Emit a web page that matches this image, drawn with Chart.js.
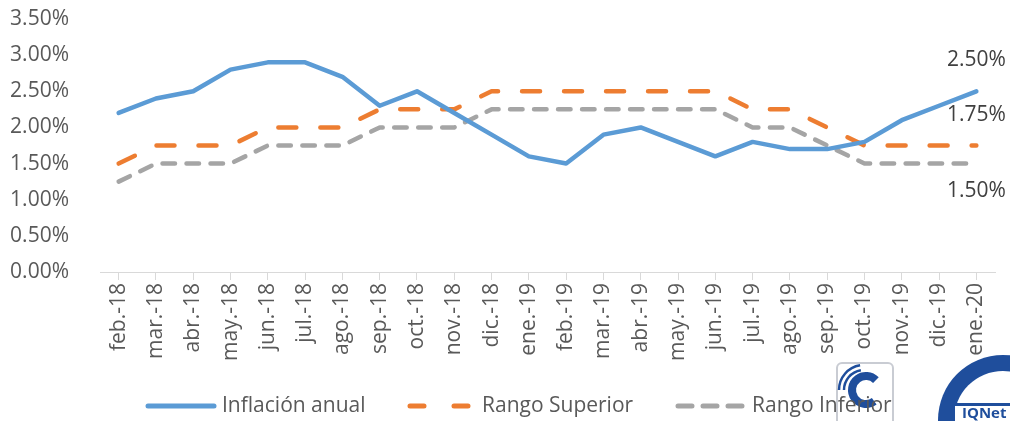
<!DOCTYPE html>
<html>
<head>
<meta charset="utf-8">
<script src="https://cdn.jsdelivr.net/npm/chart.js@4.4.1/dist/chart.umd.min.js"></script>
<style>
  html, body { margin: 0; padding: 0; background: #fff; }
  #wrap { width: 1010px; height: 421px; position: relative; }
</style>
</head>
<body>
<div id="wrap"><canvas id="chart"></canvas></div>
<script>
const months = [
  "feb.-18", "mar.-18", "abr.-18", "may.-18", "jun.-18", "jul.-18", "ago.-18", "sep.-18",
  "oct.-18", "nov.-18", "dic.-18", "ene.-19", "feb.-19", "mar.-19", "abr.-19", "may.-19",
  "jun.-19", "jul.-19", "ago.-19", "sep.-19", "oct.-19", "nov.-19", "dic.-19", "ene.-20",
];
const inflacion = [
  2.2, 2.4, 2.5, 2.8, 2.9, 2.9, 2.7, 2.3, 2.5, 2.2, 1.9, 1.6,
  1.5, 1.9, 2.0, 1.8, 1.6, 1.8, 1.7, 1.7, 1.8, 2.1, 2.3, 2.5,
];
const rangoSuperior = [
  1.5, 1.75, 1.75, 1.75, 2.0, 2.0, 2.0, 2.25, 2.25, 2.25, 2.5, 2.5,
  2.5, 2.5, 2.5, 2.5, 2.5, 2.25, 2.25, 2.0, 1.75, 1.75, 1.75, 1.75,
];
const rangoInferior = [
  1.25, 1.5, 1.5, 1.5, 1.75, 1.75, 1.75, 2.0, 2.0, 2.0, 2.25, 2.25,
  2.25, 2.25, 2.25, 2.25, 2.25, 2.0, 2.0, 1.75, 1.5, 1.5, 1.5, 1.5,
];
const seriesNames = ["Inflación anual", "Rango Superior", "Rango Inferior"];

const FONT = "'Open Sans', 'Liberation Sans', sans-serif";

// last-value labels shown at the right end of each line
const endLabelsPlugin = {
  id: "endLabels",
  afterDatasetsDraw(chart) {
    const { ctx, scales } = chart;
    const last = months.length - 1;
    const x = scales.x.getPixelForValue(last);
    const shifts = [-31, -30, 27];
    ctx.save();
    ctx.font = `21px ${FONT}`;
    ctx.fillStyle = "#404040";
    ctx.textAlign = "center";
    ctx.textBaseline = "middle";
    chart.data.datasets.forEach((ds, i) => {
      const v = ds.data[last];
      ctx.fillText(v.toFixed(2) + "%", x, scales.y.getPixelForValue(v) + shifts[i]);
    });
    ctx.restore();
  },
};

// rough stand-ins for the two certification logos in the corner
function drawLogos(ctx) {
  ctx.save();
  ctx.fillStyle = "#ffffff";
  ctx.strokeStyle = "#c9ccd3";
  ctx.lineWidth = 2;
  ctx.beginPath();
  ctx.roundRect(837, 363, 56, 64, 5);
  ctx.fill();
  ctx.stroke();
  ctx.strokeStyle = "#1f4e9c";
  ctx.lineWidth = 8;
  ctx.beginPath();
  ctx.arc(866, 390, 14, Math.PI * 0.3, Math.PI * 1.75);
  ctx.stroke();
  ctx.lineWidth = 2.5;
  [20, 25].forEach((r) => {
    ctx.beginPath();
    ctx.arc(864, 390, r, Math.PI * 1.0, Math.PI * 1.45);
    ctx.stroke();
  });

  ctx.fillStyle = "#1f4e9c";
  ctx.beginPath();
  ctx.arc(1003, 420, 65, 0, Math.PI * 2);
  ctx.fill();
  ctx.fillStyle = "#ffffff";
  ctx.beginPath();
  ctx.arc(1003, 420, 49, 0, Math.PI * 2);
  ctx.fill();
  ctx.fillStyle = "#1f4e9c";
  ctx.fillRect(951, 403, 59, 20);
  ctx.fillStyle = "#ffffff";
  ctx.fillRect(955, 406, 55, 15);
  ctx.fillStyle = "#1f4e9c";
  ctx.font = `bold 15px ${FONT}`;
  ctx.textBaseline = "middle";
  ctx.fillText("IQNet", 962, 414);
  ctx.restore();
}

const bottomLegendPlugin = {
  id: "bottomLegend",
  afterDraw(chart) {
    const { ctx } = chart;
    drawLogos(ctx);
    const y = 406;
    const items = [
      { x: 146, w: 70, text: 222 },
      { x: 408, w: 64, text: 482 },
      { x: 676, w: 68, text: 752 },
    ];
    ctx.save();
    chart.data.datasets.forEach((ds, i) => {
      const it = items[i];
      ctx.strokeStyle = ds.borderColor;
      ctx.lineWidth = 5;
      ctx.lineCap = "round";
      ctx.setLineDash(ds.legendDash || []);
      ctx.beginPath();
      ctx.moveTo(it.x + 2, y);
      ctx.lineTo(it.x + it.w - 2, y);
      ctx.stroke();
      ctx.setLineDash([]);
      ctx.font = `21px ${FONT}`;
      ctx.fillStyle = "#595959";
      ctx.textBaseline = "middle";
      ctx.fillText(ds.label, it.text, y);
    });
    ctx.restore();
  },
};

new Chart(document.getElementById("chart"), {
  type: "line",
  data: {
    labels: months,
    datasets: [
      {
        label: seriesNames[0],
        data: inflacion,
        borderColor: "#5b9bd5",
        borderWidth: 4.5,
        borderCapStyle: "round",
        borderJoinStyle: "round",
        pointRadius: 0,
        tension: 0,
        fill: false,
      },
      {
        label: seriesNames[1],
        data: rangoSuperior,
        borderColor: "#ed7d31",
        borderWidth: 4.5,
        borderDash: [18, 24],
        borderCapStyle: "round",
        borderJoinStyle: "round",
        legendDash: [14, 30],
        pointRadius: 0,
        tension: 0,
        fill: false,
      },
      {
        label: seriesNames[2],
        data: rangoInferior,
        borderColor: "#a5a5a5",
        borderWidth: 4.5,
        borderDash: [12.5, 11.5],
        borderCapStyle: "round",
        borderJoinStyle: "round",
        legendDash: [14, 11],
        pointRadius: 0,
        tension: 0,
        fill: false,
      },
    ],
  },
  options: {
    responsive: true,
    maintainAspectRatio: false,
    animation: false,
    layout: {
      padding: { top: 19, right: 15, bottom: 40, left: 0 },
    },
    plugins: {
      legend: { display: false },
      tooltip: { enabled: false },
    },
    scales: {
      x: {
        offset: true,
        afterFit(scale) {
          scale.height = 109;
        },
        grid: {
          display: true,
          drawOnChartArea: false,
          drawTicks: true,
          tickLength: 8,
          color: "#d9d9d9",
        },
        border: { display: true, color: "#d9d9d9", width: 1 },
        ticks: {
          autoSkip: false,
          minRotation: 90,
          maxRotation: 90,
          padding: 3,
          color: "#595959",
          font: { family: FONT, size: 21 },
        },
      },
      y: {
        min: 0,
        max: 3.5,
        afterFit(scale) {
          scale.width = 100;
          scale.paddingTop = 0;
          scale.paddingBottom = 0;
        },
        grid: { display: false },
        border: { display: false },
        ticks: {
          stepSize: 0.5,
          padding: 23,
          color: "#595959",
          font: { family: FONT, size: 21 },
          callback: (v) => v.toFixed(2) + "%",
        },
      },
    },
  },
  plugins: [endLabelsPlugin, bottomLegendPlugin],
});
</script>
</body>
</html>
